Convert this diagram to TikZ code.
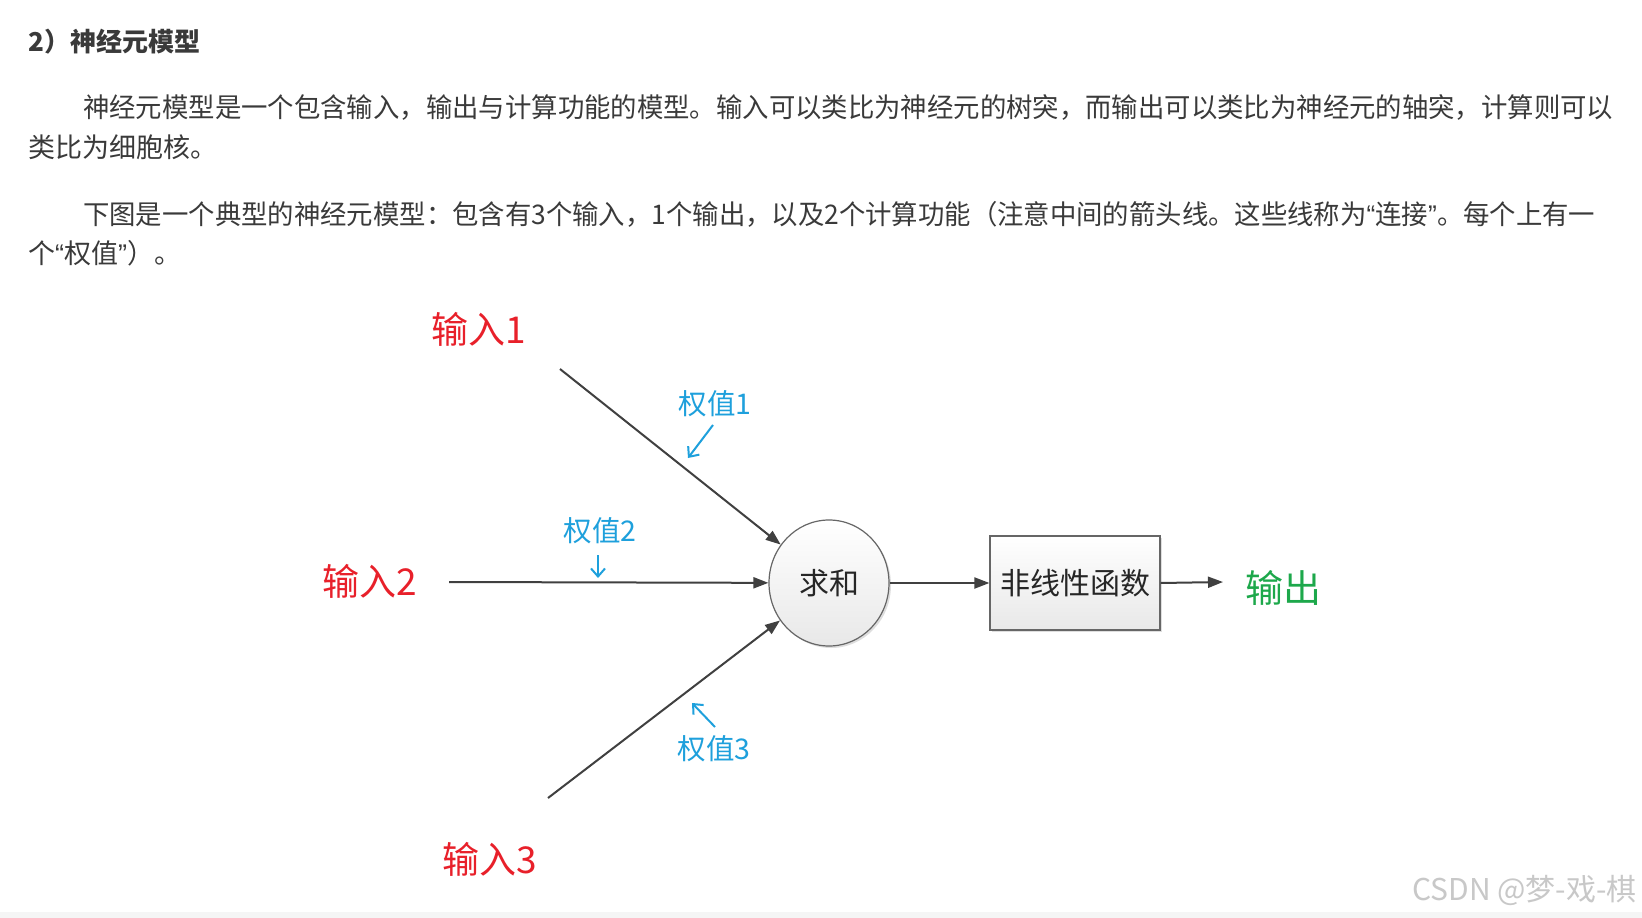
\documentclass[tikz,border=0pt]{standalone}
\usepackage{fontspec}
\usepackage{graphicx}
\setmainfont{Noto Sans CJK SC}
\newfontfamily\cjk{Noto Sans CJK SC}
\newfontfamily\latq{Liberation Sans}
\usetikzlibrary{arrows.meta,shadows,shapes.geometric}
\definecolor{txt}{HTML}{3A3A3A}
\definecolor{linec}{HTML}{404040}
\definecolor{inred}{HTML}{E8202A}
\definecolor{wblue}{HTML}{1EA0DC}
\definecolor{outgreen}{HTML}{1DA84B}
\definecolor{wm}{HTML}{C8C8C8}
\newcommand{\myopenq}{{\latq “}}
\newcommand{\mycloseq}{{\latq ”}}
\tikzset{
  para/.style={anchor=west, inner sep=0pt, text=txt, font=\cjk\fontsize{27}{32}\selectfont},
  inlabel/.style={text=inred, inner sep=0pt, font=\cjk\fontsize{37}{40}\selectfont},
  wlabel/.style={text=wblue, inner sep=0pt, font=\cjk\fontsize{28.5}{32}\selectfont},
  conn/.style={draw=linec, line width=2pt, -{Triangle[length=15pt,width=11pt]}},
  warrow/.style={draw=wblue, line width=2pt, -{Straight Barb[length=8pt,width=14pt]}},
  sumnode/.style={ellipse, draw=linec!80, line width=1.2pt, minimum width=120pt, minimum height=126pt,
     top color=white, bottom color=black!9, drop shadow={shadow xshift=2pt, shadow yshift=-2pt, fill=black!25},
     font=\cjk\fontsize{30}{32}\selectfont, text=black!85},
  boxnode/.style={rectangle, draw=linec!80, line width=1.2pt, minimum width=170pt, minimum height=94pt,
     top color=white, bottom color=black!9, drop shadow={shadow xshift=2pt, shadow yshift=-2pt, fill=black!25},
     font=\cjk\fontsize{30}{32}\selectfont, text=black!85}
}
\begin{document}
\begin{tikzpicture}[x=1pt,y=-1pt]
\useasboundingbox (0,0) rectangle (1642,918);
\fill[white] (0,0) rectangle (1642,918);
\fill[black!4] (0,912) rectangle (1642,918);

% text
\node[para, font=\cjk\bfseries\fontsize{26}{30}\selectfont] (title) at (28,42) {2）神经元模型};
\node[para] (p1a) at (83,108) {\resizebox{1530pt}{\height}{神经元模型是一个包含输入，输出与计算功能的模型。输入可以类比为神经元的树突，而输出可以类比为神经元的轴突，计算则可以}};
\node[para] (p1b) at (28,147) {类比为细胞核。};
\node[para] (p2a) at (83,214) {\resizebox{1512pt}{\height}{下图是一个典型的神经元模型：包含有3个输入，1个输出，以及2个计算功能（注意中间的箭头线。这些线称为\myopenq 连接\mycloseq 。每个上有一}};
\node[para] (p2b) at (28,253) {个\myopenq 权值\mycloseq ）。};

% diagram nodes
\node[sumnode] (sum) at (829,583) {求和};
\node[boxnode] (box) at (1075,583) {非线性函数};
\node[inlabel] (in1) at (479,329) {输入1};
\node[inlabel] (in2) at (370,581) {输入2};
\node[inlabel] (in3) at (490,859) {输入3};
\node[inlabel, text=outgreen, font=\cjk\fontsize{38}{40}\selectfont] (out) at (1283,588) {输出};

\node[wlabel] (w1) at (715,404) {权值1};
\node[wlabel] (w2) at (600,531) {权值2};
\node[wlabel] (w3) at (714,749) {权值3};

% connector start/end points
\coordinate (s1) at (560,369);
\coordinate (s2) at (449,582);
\coordinate (s3) at (548,798);
\coordinate (oend) at (1223,582);

\draw[conn] (s1) -- (sum);
\draw[conn] (s2) -- (sum);
\draw[conn] (s3) -- (sum);
\draw[conn] (sum) -- (box);
\draw[conn] (box.east) -- (oend);

% weight pointer arrows
\coordinate (a1s) at (713,425); \coordinate (a1e) at (688,458);
\coordinate (a2s) at (598,555); \coordinate (a2e) at (598,578);
\coordinate (a3s) at (715,727); \coordinate (a3e) at (692,703);
\draw[warrow] (a1s) -- (a1e);
\draw[warrow] (a2s) -- (a2e);
\draw[warrow] (a3s) -- (a3e);

% watermark
\node[anchor=east, inner sep=0pt, text=wm, font=\cjk\fontsize{30}{32}\selectfont] (wmark) at (1637,890) {CSDN @梦-戏-棋};
\end{tikzpicture}
\end{document}
